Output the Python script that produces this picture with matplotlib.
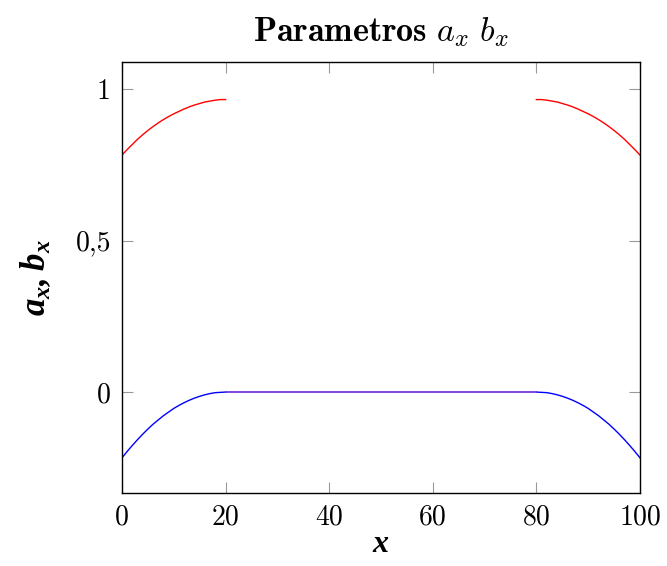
import matplotlib
matplotlib.use('Agg')
import matplotlib.pyplot as plt

plt.rcParams['font.family'] = 'cmr10'
plt.rcParams['mathtext.fontset'] = 'custom'
plt.rcParams['mathtext.rm'] = 'cmr10'
plt.rcParams['mathtext.it'] = 'cmmi10'
plt.rcParams['mathtext.bf'] = 'cmb10'
plt.rcParams['mathtext.sf'] = 'Liberation Serif:bold:italic'
plt.rcParams['axes.unicode_minus'] = False

# left edge (0..20)
x_left = list(range(0, 21))
a_left = [0.782, 0.800, 0.817, 0.834, 0.849, 0.863, 0.876, 0.888, 0.899, 0.909, 0.918,
          0.926, 0.934, 0.941, 0.947, 0.952, 0.957, 0.960, 0.963, 0.965, 0.965]
b_left = [-0.217, -0.196, -0.176, -0.157, -0.139, -0.122, -0.106, -0.092, -0.078, -0.066, -0.054,
          -0.044, -0.035, -0.027, -0.020, -0.014, -0.009, -0.005, -0.002, -0.001, 0.0]

# right edge (80..100), mirror of the left one
x_right = list(range(80, 101))
a_right = a_left[::-1]
b_right = b_left[::-1]

# middle (b = 0)
x_mid = [20, 80]
b_mid = [0.0, 0.0]

xticks = [0, 20, 40, 60, 80, 100]
yticks = [0, 0.5, 1]
ytick_labels = ['0', '0,5', '1']

fig = plt.figure(figsize=(6.67, 5.66), dpi=100)
ax = fig.add_axes([0.1829, 0.129, 0.9595 - 0.1829, 0.8905 - 0.129])

ax.plot(x_left, a_left, color='red', lw=1)
ax.plot(x_right, a_right, color='red', lw=1)
ax.plot(x_left, b_left, color='blue', lw=1)
ax.plot(x_right, b_right, color='blue', lw=1)
ax.plot(x_mid, b_mid, color='#6a28d8', lw=1.2)

ax.set_xlim(0, 100)
ax.set_ylim(-0.333, 1.089)
ax.set_xticks(xticks)
ax.set_xticklabels([str(t) for t in xticks])
ax.set_yticks(yticks)
ax.set_yticklabels(ytick_labels)
ax.tick_params(direction='in', length=8, width=0.8, color='0.6',
               top=True, right=True, labelsize=20, pad=8)
for s in ax.spines.values():
    s.set_linewidth(1.0)

ax.set_title(r'$\mathbf{Parametros}\ a_x\ b_x$', fontsize=24.5, pad=15)
ax.set_xlabel(r'$\mathsf{x}$', fontsize=23, labelpad=0)
ax.set_ylabel(r'$\mathsf{a_x, b_x}$', fontsize=25, labelpad=16)

fig.savefig('out.png', dpi=100)
